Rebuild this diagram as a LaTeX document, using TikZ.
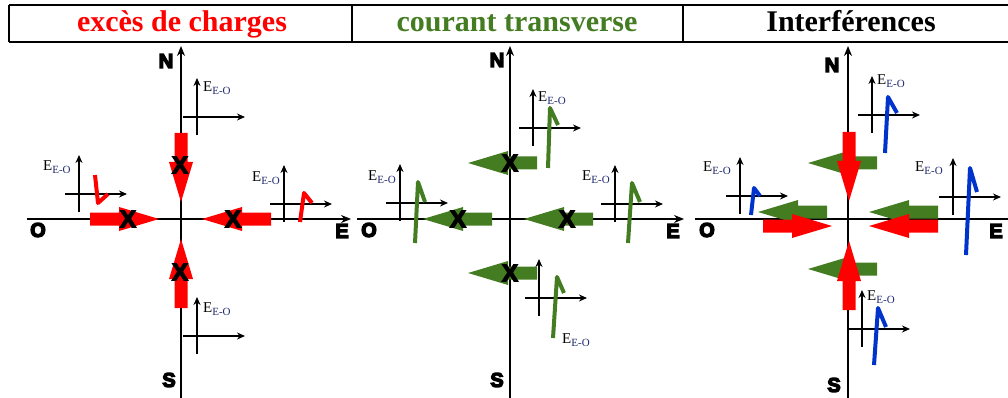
\documentclass[tikz,border=0pt]{standalone}
\usepackage{fontspec}
\setmainfont{Liberation Serif}
\newfontfamily\heavysans{Liberation Sans Bold}
\definecolor{chred}{RGB}{255,0,0}
\definecolor{chgreen}{RGB}{68,124,34}
\definecolor{chblue}{RGB}{0,51,204}
\definecolor{subblue}{RGB}{30,40,110}
\usetikzlibrary{arrows.meta}
\newcommand{\eeo}{E\raisebox{-3.5pt}{\fontsize{11}{11}\selectfont\color{subblue}E-O}}
\newcommand{\heavy}[1]{\special{pdf:literal direct 2 Tr 1.3 w}#1\special{pdf:literal direct 0 Tr}}
\tikzset{
  barrow/.pic={
    \fill (0,6.5) -- (29,6.5) -- (29,12) -- (69,0) -- (29,-12) -- (29,-6.5) -- (0,-6.5) -- cycle;
  },
  chart/.pic={
    \draw[line width=1.4pt,-{Stealth[length=8pt,width=7pt]}] (0,18) -- (0,-39);
    \draw[line width=1.4pt,-{Stealth[length=8pt,width=7pt]}] (-14,0) -- (48,0);
  },
}
\begin{document}
\begin{tikzpicture}[x=1pt,y=-1pt,
  mainaxis/.style={line width=1.4pt,-{Stealth[length=10pt,width=8pt]}},
  cardinal/.style={font=\heavysans\fontsize{20}{20}\selectfont,inner sep=0pt},
  xmark/.style={font=\heavysans\fontsize{24}{24}\selectfont,inner sep=0pt},
  eeolabel/.style={font=\fontsize{15}{15}\selectfont,inner sep=0pt,anchor=west},
  wave/.style={line width=4pt,line join=round},
  titletext/.style={font=\bfseries\fontsize{30}{30}\selectfont,inner sep=0pt,anchor=base}]
  \useasboundingbox (0,0) rectangle (1008,398);
  %% Header row
  \draw[line width=1.8pt] (9,5) -- (1008,5) (9,42) -- (1008,42)
    (9,5) -- (9,42) (352,5) -- (352,42) (683,5) -- (683,42);
  \node[titletext,text=chred] (t1) at (182,32) {excès de charges};
  \node[titletext,text=chgreen] (t2) at (517,32) {courant transverse};
  \node[titletext] (t3) at (851,32) {Interférences};

  %% Panel 1: charge excess
  \draw[mainaxis] (181,398) -- (181,46);
  \draw[mainaxis] (27,219) -- (351,219);
  \node[cardinal] (n1) at (166,61) {\heavy{N}};
  \node[cardinal] (s1) at (169,380) {\heavy{S}};
  \node[cardinal] (o1) at (38,230) {\heavy{O}};
  \node[cardinal] (e1) at (342,231) {\heavy{E}};
  \pic[fill=chred,rotate=-90] at (181,133) {barrow};
  \pic[fill=chred,rotate=90] at (181,308) {barrow};
  \pic[fill=chred] at (90,219) {barrow};
  \pic[fill=chred,rotate=180] at (271,219) {barrow};
  \node[xmark] (x11) at (180,165) {\heavy{X}};
  \node[xmark] (x12) at (180,272) {\heavy{X}};
  \node[xmark] (x13) at (128,219) {\heavy{X}};
  \node[xmark] (x14) at (233,219) {\heavy{X}};
  \pic at (197,117) {chart};
  \pic at (79,194) {chart};
  \pic at (284,204) {chart};
  \pic at (197,336) {chart};
  \node[eeolabel] (l11) at (203,88) {\eeo};
  \node[eeolabel] (l12) at (43,167) {\eeo};
  \node[eeolabel] (l13) at (252,178) {\eeo};
  \node[eeolabel] (l14) at (203,309) {\eeo};
  \draw[wave,chred] (95,175) -- (98,203) -- (108,194);
  \draw[wave,chred] (300,222) -- (304,193) -- (312,203);

  %% Panel 2: transverse current
  \draw[mainaxis] (510,398) -- (510,46);
  \draw[mainaxis] (357,219) -- (684,219);
  \node[cardinal] (n2) at (497,60) {\heavy{N}};
  \node[cardinal] (s2) at (497,380) {\heavy{S}};
  \node[cardinal] (o2) at (369,230) {\heavy{O}};
  \node[cardinal] (e2) at (673,231) {\heavy{E}};
  \pic[fill=chgreen,rotate=180] at (537,163) {barrow};
  \pic[fill=chgreen,rotate=180] at (492,219) {barrow};
  \pic[fill=chgreen,rotate=180] at (593,219) {barrow};
  \pic[fill=chgreen,rotate=180] at (537,273) {barrow};
  \node[xmark] (x21) at (510,163) {\heavy{X}};
  \node[xmark] (x22) at (458,219) {\heavy{X}};
  \node[xmark] (x23) at (567,219) {\heavy{X}};
  \node[xmark] (x24) at (510,273) {\heavy{X}};
  \pic at (533,128) {chart};
  \pic at (400,203) {chart};
  \pic at (615,204) {chart};
  \pic at (539,298) {chart};
  \node[eeolabel] (l21) at (538,98) {\eeo};
  \node[eeolabel] (l22) at (368,177) {\eeo};
  \node[eeolabel] (l23) at (582,177) {\eeo};
  \node[eeolabel] (l24) at (562,340) {\eeo};
  \draw[wave,chgreen] (548,168) -- (550,108) -- (558,125);
  \draw[wave,chgreen] (415,243) -- (418,182) -- (425,202);
  \draw[wave,chgreen] (628,243) -- (632,183) -- (640,202);
  \draw[wave,chgreen] (553,338) -- (557,277) -- (564,293);

  %% Panel 3: interferences
  \draw[mainaxis] (848,398) -- (848,46);
  \draw[line width=1.4pt] (695,219) -- (1008,219);
  \node[cardinal] (n3) at (832,65) {\heavy{N}};
  \node[cardinal] (s3) at (834,385) {\heavy{S}};
  \node[cardinal] (o3) at (707,230) {\heavy{O}};
  \node[cardinal] (e3) at (996,231) {\heavy{E}};
  \pic[fill=chgreen,rotate=180] at (877,163) {barrow};
  \pic[fill=chgreen,rotate=180] at (827,212) {barrow};
  \pic[fill=chgreen,rotate=180] at (938,212) {barrow};
  \pic[fill=chgreen,rotate=180] at (877,269) {barrow};
  \pic[fill=chred,rotate=-90] at (849,132) {barrow};
  \pic[fill=chred,rotate=90] at (849,310) {barrow};
  \pic[fill=chred] at (763,226) {barrow};
  \pic[fill=chred,rotate=180] at (938,226) {barrow};
  \pic at (872,115) {chart};
  \pic at (740,196) {chart};
  \pic at (953,197) {chart};
  \pic at (862,329) {chart};
  \node[eeolabel] (l31) at (877,81) {\eeo};
  \node[eeolabel] (l32) at (703,168) {\eeo};
  \node[eeolabel] (l33) at (915,168) {\eeo};
  \node[eeolabel] (l34) at (867,297) {\eeo};
  \draw[wave,chblue] (885,153) -- (888,97) -- (897,113);
  \draw[wave,chblue] (751,215) -- (754,188) -- (760,196);
  \draw[wave,chblue] (966,255) -- (970,168) -- (977,192);
  \draw[wave,chblue] (874,365) -- (878,308) -- (886,327);
\end{tikzpicture}
\end{document}
